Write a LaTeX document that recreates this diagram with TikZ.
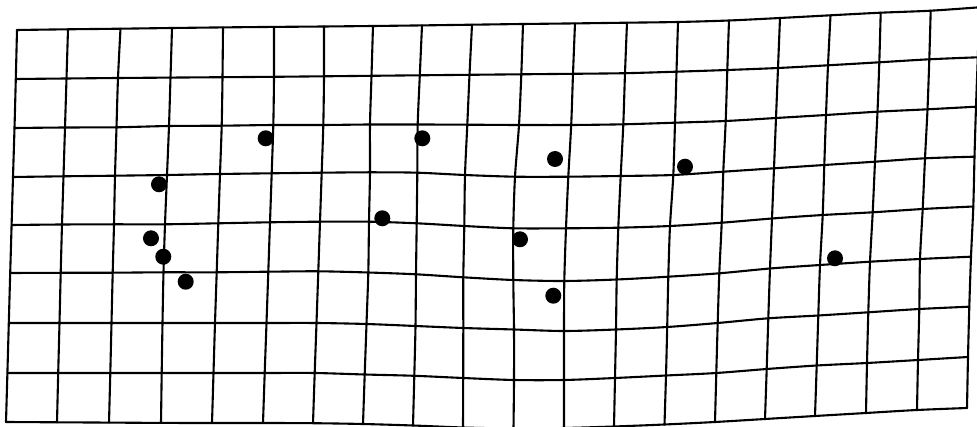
\documentclass[tikz,border=0pt]{standalone}
\tikzset{
  gridline/.style={line width=2.1pt, line join=round, line cap=round, black},
  dot/.style={circle, fill=black, inner sep=0pt, minimum size=16pt}
}
\begin{document}
\begin{tikzpicture}[x=1pt,y=-1pt]
\useasboundingbox (0,0) rectangle (977,427);
\fill[white] (0,0) rectangle (977,427);
% x of each grid line crossing, column by column (9 rows each)
\def\XX{{17,15.8,14.5,13,11.6,10.2,8.8,7.4,6,
68,66.5,65,63.5,62,60.7,59.5,58.2,57,
120.5,118,116.5,115,114,112.7,111.5,110.3,109,
172,170.5,169,167,165,163.5,162.5,161.7,161,
223,222.5,221.7,220,218.3,216.7,215,213.5,212,
274,274,273.3,271.7,270,268.3,266.5,264.7,263,
324,324,323.3,321.7,320,318.3,316.5,314.7,313,
373,371.5,370,370,369,368.3,366.5,364.7,363,
422,419.8,417.7,417.3,416.7,416,415.5,414.3,413,
472,469.5,467.3,465,464.3,463.3,463.3,463.2,463,
523,521.3,519,515,513.3,513.3,514,514,513.5,
575,573,571.2,568.3,566,564.3,564,564,564,
627,625,623.3,620.7,618.3,616.7,616,615,614,
678,676.5,675,673.3,670,668.3,667.2,666,664.5,
729,727.3,725.7,723.3,721.7,719.3,717.7,716.3,715,
780,778,776,774,772,770,768.3,766.7,765,
830.5,828,826,824.3,822.7,820,818.3,816.7,815,
880.7,879.3,877.5,875,872.7,870,868.3,867,866,
930.7,929.3,927.5,925,922.7,920,919.3,918,917,
979.5,977.8,976,974.5,973.3,971,969.3,968,967}}
% y of each grid line crossing, row by row (20 columns each)
\def\YY{{30,29.3,28.7,28,27.4,26.9,26.5,26,25.4,24.7,24,23.4,22.7,22,20.5,18,15.3,12.7,10.7,7.3,
79,78.5,78,77.6,77.2,76.8,76.3,75.8,75.3,74.8,74.3,73.8,73.2,71.7,70,68,65.3,62.3,59.3,57.3,
128,127.5,127.3,126,125.7,125,125,124.5,124.5,124.7,125,125,124.3,122.7,121,118,115,111.7,109.3,106.7,
177,176.3,175.7,175,174,173.3,172.7,172.3,172.7,175,176.7,176.7,176,175,171.7,168.3,165,161.7,158.3,156.7,
225,224.5,224.3,224.3,223.3,222.3,221.7,221.7,223.3,226,228.3,228.3,227.7,226,222.7,218.5,215,212.3,209,206.5,
273,272.8,272.7,272.3,272.3,271.7,271.3,272.5,274.3,277.3,280,281,279.5,276.7,273.3,268.5,265,261.7,259,256.7,
323,323,323,323,323,323,323,324,326,328,329.5,331,329.5,327,323,318.3,315.5,312.3,309,306.7,
373,373,373,373,373,373,373,374.5,375.8,378,380,380,378,375.5,373,369,365.5,363,360,357,
422,422.3,422.6,422.9,423,423,423.2,424,425.5,427.5,428.5,428,426.5,424.5,422,419,416,413,410,408}}
\foreach \i in {0,...,19}{
  \foreach \j in {0,...,8}{
    \pgfmathsetmacro\xv{\XX[\i*9+\j]}
    \pgfmathsetmacro\yv{\YY[\j*20+\i]}
    \coordinate (p-\i-\j) at (\xv,\yv);
  }
}
% horizontal grid lines
\foreach \j in {0,...,8}{
  \gdef\lst{}
  \foreach \i in {0,...,19}{\xdef\lst{\lst (p-\i-\j)}}
  \edef\cmd{\noexpand\draw[gridline] plot[smooth] coordinates {\lst};}
  \cmd
}
% vertical grid lines
\foreach \i in {0,...,19}{
  \gdef\lst{}
  \foreach \j in {0,...,8}{\xdef\lst{\lst (p-\i-\j)}}
  \edef\cmd{\noexpand\draw[gridline] plot[smooth] coordinates {\lst};}
  \cmd
}
% dots
\foreach \n/\x/\y in {1/265.7/138.3, 2/422.3/138.3, 3/555/159, 4/685/166.7,
  5/159/184.3, 6/382.3/218.3, 7/520/239.3, 8/151/238.3, 9/163.3/256.7,
  10/185.7/281.7, 11/553.3/295.7, 12/835/258.3}
  \node[dot] (d\n) at (\x,\y) {};
\end{tikzpicture}
\end{document}
